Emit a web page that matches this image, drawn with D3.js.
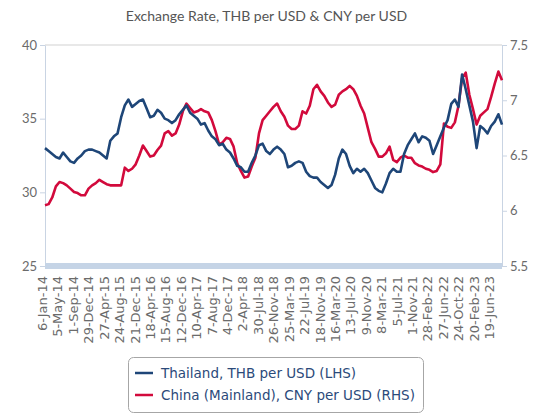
<!DOCTYPE html>
<html>
<head>
<meta charset="utf-8">
<script src="https://cdn.jsdelivr.net/npm/d3@7"></script>
<style>
  body { margin: 0; background: #fff; }
  .axis path, .axis line { stroke: #c9d4e3; }
  .axis text { font-family: Lato, sans-serif; font-size: 13px; fill: #6b6b6b; }
  .x-axis text { font-family: "DejaVu Sans", sans-serif; font-size: 13px; fill: #6b6b6b; }
  .legend text { font-family: "DejaVu Sans", sans-serif; font-size: 13.5px; fill: #2b4a7a; }
</style>
</head>
<body>
<div id="chart"></div>
<script>
// weekly series, sampled every 4 weeks from the first week
const startDate = '2014-01-06';
const stepWeeks = 4;

// Thailand, THB per USD (LHS)
const thb = [
  33.0, 32.8, 32.6, 32.4, 32.3, 32.7, 32.4, 32.1, 32.0, 32.3, 32.5, 32.8, 32.9,
  32.9, 32.8, 32.7, 32.5, 32.3, 33.5, 33.8, 34.0, 35.1, 35.9, 36.3, 35.8, 36.0,
  36.2, 36.3, 35.7, 35.1, 35.2, 35.6, 35.4, 35.0, 34.9, 34.7, 34.9, 35.3, 35.6,
  35.9, 35.4, 35.2, 35.0, 34.6, 34.7, 34.2, 33.8, 33.6, 33.2, 33.3, 32.9, 32.7,
  32.3, 31.8, 31.7, 31.4, 31.4, 32.0, 32.5, 33.2, 33.3, 32.8, 32.6, 32.9, 33.1,
  32.9, 32.6, 31.7, 31.8, 32.0, 32.1, 32.0, 31.4, 31.1, 31.0, 31.0, 30.7, 30.5,
  30.3, 30.5, 31.2, 32.3, 32.9, 32.6, 31.8, 31.3, 31.6, 31.4, 31.6, 31.3, 30.8,
  30.3, 30.1, 30.0, 30.6, 31.3, 31.6, 31.4, 31.4, 32.6, 33.2, 33.6, 34.0, 33.4,
  33.8, 33.7, 33.5, 32.6, 33.2, 33.8, 34.4, 34.9, 36.0, 36.3, 35.8, 38.0, 37.0,
  35.9, 34.8, 33.0, 34.5, 34.3, 34.0, 34.5, 34.8, 35.3, 34.6
];

// China (Mainland), CNY per USD (RHS)
const cny = [
  6.05, 6.06, 6.12, 6.22, 6.26, 6.25, 6.23, 6.20, 6.17, 6.16, 6.14, 6.14, 6.20,
  6.23, 6.25, 6.28, 6.26, 6.24, 6.23, 6.23, 6.23, 6.23, 6.39, 6.36, 6.38, 6.42,
  6.50, 6.59, 6.54, 6.49, 6.50, 6.55, 6.59, 6.70, 6.72, 6.68, 6.70, 6.78, 6.90,
  6.97, 6.93, 6.89, 6.90, 6.92, 6.90, 6.89, 6.82, 6.72, 6.60, 6.62, 6.66, 6.65,
  6.58, 6.43, 6.36, 6.30, 6.31, 6.40, 6.48, 6.70, 6.82, 6.86, 6.90, 6.94, 6.97,
  6.90, 6.85, 6.77, 6.74, 6.74, 6.77, 6.90, 6.88, 6.95, 7.10, 7.14, 7.08, 7.04,
  6.98, 6.94, 6.96, 7.05, 7.08, 7.10, 7.13, 7.10, 7.04, 6.95, 6.88, 6.75, 6.62,
  6.56, 6.49, 6.49, 6.52, 6.58, 6.46, 6.44, 6.48, 6.50, 6.48, 6.48, 6.43, 6.41,
  6.40, 6.38, 6.37, 6.35, 6.36, 6.42, 6.79, 6.76, 6.75, 6.80, 6.95, 7.20, 7.25,
  7.05, 6.92, 6.78, 6.86, 6.89, 6.92, 7.03, 7.15, 7.26, 7.18
];

const xTickLabels = [
  '6-Jan-14', '5-May-14', '1-Sep-14', '29-Dec-14', '27-Apr-15', '24-Aug-15',
  '21-Dec-15', '18-Apr-16', '15-Aug-16', '12-Dec-16', '10-Apr-17', '7-Aug-17',
  '4-Dec-17', '2-Apr-18', '30-Jul-18', '26-Nov-18', '25-Mar-19', '22-Jul-19',
  '18-Nov-19', '16-Mar-20', '13-Jul-20', '9-Nov-20', '8-Mar-21', '5-Jul-21',
  '1-Nov-21', '28-Feb-22', '27-Jun-22', '24-Oct-22', '20-Feb-23', '19-Jun-23'
];
const leftTicks = [25, 30, 35, 40];
const rightTicks = [5.5, 6, 6.5, 7, 7.5];

const seriesNames = ['Thailand, THB per USD (LHS)', 'China (Mainland), CNY per USD (RHS)'];
const seriesColors = ['#1e4678', '#d20a3c'];

const config = {
  width: 540,
  height: 414,
  plot: { left: 45, right: 502, top: 45, bottom: 266 }
};

const parseDate = d3.timeParse('%Y-%m-%d');
const parseTick = d3.timeParse('%d-%b-%y');
const formatTick = d3.timeFormat('%-d-%b-%y');

const t0 = parseDate(startDate);
const dates = thb.map((_, i) => d3.timeDay.offset(t0, i * 7 * stepWeeks));

const svg = d3.select('#chart').append('svg')
  .attr('width', config.width)
  .attr('height', config.height);

const p = config.plot;

const xScale = d3.scaleTime()
  .domain([dates[0], dates[dates.length - 1]])
  .range([p.left, p.right]);

const yLeft = d3.scaleLinear().domain([25, 40]).range([p.bottom, p.top]);
const yRight = d3.scaleLinear().domain([5.5, 7.5]).range([p.bottom, p.top]);

// title
svg.append('text')
  .attr('x', 266.5)
  .attr('y', 21)
  .attr('text-anchor', 'middle')
  .style('font-family', 'Lato, sans-serif')
  .style('font-size', '14px')
  .style('fill', '#555')
  .text('Exchange Rate, THB per USD & CNY per USD');

// top border of the plot
svg.append('line')
  .attr('x1', p.left).attr('x2', p.right)
  .attr('y1', p.top).attr('y2', p.top)
  .attr('stroke', '#d2d2d2')
  .attr('stroke-width', 1.2);

// left axis
svg.append('g')
  .attr('class', 'axis y-axis')
  .attr('transform', `translate(${p.left},0)`)
  .call(d3.axisLeft(yLeft).tickValues(leftTicks).tickSize(5).tickSizeOuter(0).tickPadding(3).tickFormat(d3.format('d')));

// right axis
svg.append('g')
  .attr('class', 'axis y-axis-right')
  .attr('transform', `translate(${p.right},0)`)
  .call(d3.axisRight(yRight).tickValues(rightTicks).tickSize(5).tickSizeOuter(0).tickPadding(3).tickFormat(d => d));

// bottom band acting as the x axis line
svg.append('rect')
  .attr('x', p.left)
  .attr('y', p.bottom - 3)
  .attr('width', p.right - p.left)
  .attr('height', 6)
  .attr('fill', '#c5d4e6');

// x axis labels only
const xAxisG = svg.append('g')
  .attr('class', 'axis x-axis')
  .attr('transform', `translate(0,${p.bottom + 4})`)
  .call(d3.axisBottom(xScale)
    .tickValues(xTickLabels.map(parseTick))
    .tickFormat(formatTick)
    .tickSize(0)
    .tickPadding(0));
xAxisG.select('.domain').remove();
xAxisG.selectAll('text')
  .attr('transform', 'rotate(-90)')
  .attr('text-anchor', 'end')
  .attr('x', -6)
  .attr('y', -3)
  .attr('dy', '0.35em');

// lines
const lineThb = d3.line()
  .x((d, i) => xScale(dates[i]))
  .y(d => yLeft(d));
const lineCny = d3.line()
  .x((d, i) => xScale(dates[i]))
  .y(d => yRight(d));

svg.append('path')
  .datum(cny)
  .attr('fill', 'none')
  .attr('stroke', seriesColors[1])
  .attr('stroke-width', 2.6)
  .attr('stroke-linejoin', 'round')
  .attr('d', lineCny);

svg.append('path')
  .datum(thb)
  .attr('fill', 'none')
  .attr('stroke', seriesColors[0])
  .attr('stroke-width', 2.6)
  .attr('stroke-linejoin', 'round')
  .attr('d', lineThb);

// legend
const legend = svg.append('g').attr('class', 'legend');
legend.append('rect')
  .attr('x', 128.5).attr('y', 357.5)
  .attr('width', 295).attr('height', 55)
  .attr('rx', 5)
  .attr('fill', '#fff')
  .attr('stroke', '#a6a6a6');

seriesNames.forEach((name, i) => {
  const y = 373 + i * 22;
  legend.append('line')
    .attr('x1', 135).attr('x2', 153)
    .attr('y1', y).attr('y2', y)
    .attr('stroke', seriesColors[i])
    .attr('stroke-width', 2.5);
  legend.append('text')
    .attr('x', 161)
    .attr('y', y + 5)
    .text(name);
});
</script>
</body>
</html>
